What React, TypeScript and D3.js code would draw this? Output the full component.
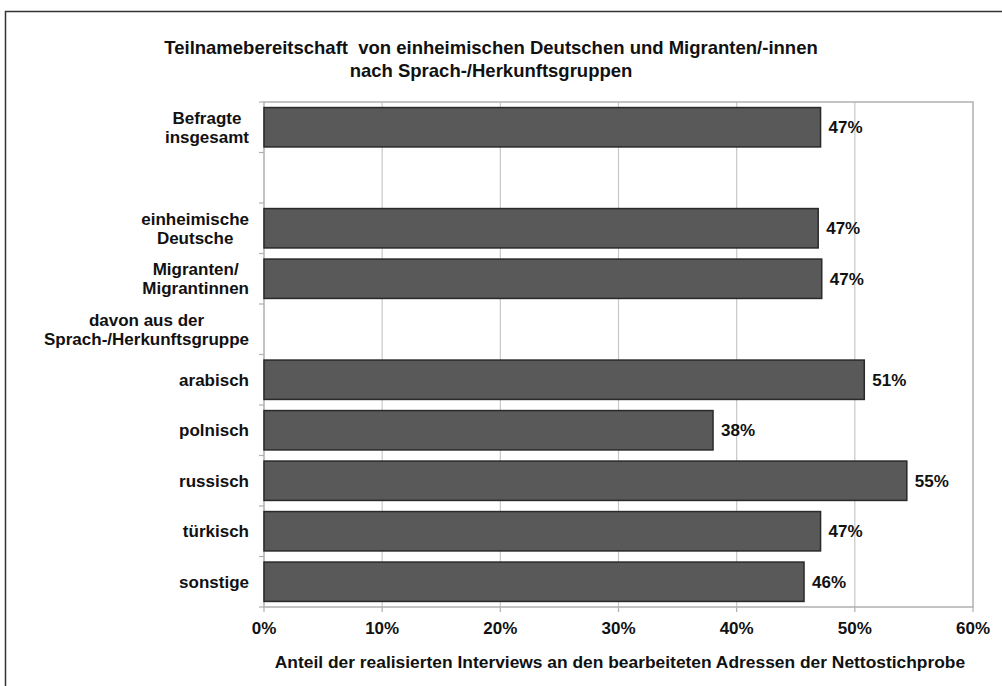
import { useEffect, useRef } from 'react';
import * as d3 from 'd3';

const categories = [
  'Befragte|insgesamt',
  'leer1',
  'einheimische|Deutsche',
  'Migranten/|Migrantinnen',
  'davon aus der|Sprach-/Herkunftsgruppe',
  'arabisch',
  'polnisch',
  'russisch',
  'türkisch',
  'sonstige',
];
const values: (number | null)[] = [47.1, null, 46.9, 47.2, null, 50.8, 38.0, 54.4, 47.1, 45.7];
const valueLabels = ['47%', '', '47%', '47%', '', '51%', '38%', '55%', '47%', '46%'];
const xTicks = [0, 10, 20, 30, 40, 50, 60];

const titleLines = [
  'Teilnamebereitschaft  von einheimischen Deutschen und Migranten/-innen',
  'nach Sprach-/Herkunftsgruppen',
];
const xTitle = 'Anteil der realisierten Interviews an den bearbeiteten Adressen der Nettostichprobe';

export default function App() {
  const svgRef = useRef<SVGSVGElement>(null);

  useEffect(() => {
    if (!svgRef.current) return;
    const W = 1002;
    const H = 686;
    const plot = { left: 264, right: 973, top: 102, bottom: 607 };
    const font = 'Arial, "Liberation Sans", sans-serif';
    const fs = 17;

    d3.select(svgRef.current).selectAll('*').remove();
    const svg = d3.select(svgRef.current).attr('width', W).attr('height', H);

    svg.append('rect').attr('width', W).attr('height', H).attr('fill', '#fff');

    // outer frame
    svg.append('rect')
      .attr('x', 5.5).attr('y', 11.5)
      .attr('width', W + 20).attr('height', H + 20)
      .attr('fill', 'none').attr('stroke', '#333').attr('stroke-width', 1.5);

    const x = d3.scaleLinear().domain([0, 60]).range([plot.left, plot.right]);
    const y = d3.scaleBand<number>()
      .domain(d3.range(categories.length))
      .range([plot.top, plot.bottom])
      .paddingInner(0.22)
      .paddingOuter(0.11);
    const slot = (plot.bottom - plot.top) / categories.length;

    // title
    svg.append('g').selectAll('text').data(titleLines).join('text')
      .attr('x', 491).attr('y', (_, i) => 54 + i * 23)
      .attr('text-anchor', 'middle')
      .attr('font-family', font).attr('font-weight', 'bold').attr('font-size', 18.5)
      .attr('fill', '#111')
      .style('white-space', 'pre')
      .text(d => d);

    // gridlines
    svg.append('g').selectAll('line').data(xTicks.slice(1, -1)).join('line')
      .attr('x1', d => x(d)).attr('x2', d => x(d))
      .attr('y1', plot.top).attr('y2', plot.bottom)
      .attr('stroke', '#c8c8c8').attr('stroke-width', 1.2);

    // plot border
    svg.append('rect')
      .attr('x', plot.left).attr('y', plot.top)
      .attr('width', plot.right - plot.left).attr('height', plot.bottom - plot.top)
      .attr('fill', 'none').attr('stroke', '#b0b0b0').attr('stroke-width', 1.5);

    // y axis ticks
    svg.append('g').selectAll('line').data(d3.range(categories.length + 1)).join('line')
      .attr('x1', plot.left - 5).attr('x2', plot.left)
      .attr('y1', d => plot.top + d * slot).attr('y2', d => plot.top + d * slot)
      .attr('stroke', '#b0b0b0').attr('stroke-width', 1.2);

    // x axis ticks
    svg.append('g').selectAll('line').data(xTicks).join('line')
      .attr('x1', d => x(d)).attr('x2', d => x(d))
      .attr('y1', plot.bottom).attr('y2', plot.bottom + 5)
      .attr('stroke', '#b0b0b0').attr('stroke-width', 1.2);

    // bars
    const data = values.map((v, i) => ({ v, i })).filter(d => d.v !== null) as { v: number; i: number }[];
    svg.append('g').selectAll('rect').data(data).join('rect')
      .attr('x', x(0)).attr('y', d => y(d.i)!)
      .attr('width', d => x(d.v) - x(0)).attr('height', y.bandwidth())
      .attr('fill', '#595959').attr('stroke', '#2a2a2a').attr('stroke-width', 1.5);

    // value labels
    svg.append('g').selectAll('text').data(data).join('text')
      .attr('x', d => x(d.v) + 8).attr('y', d => y(d.i)! + y.bandwidth() / 2 + 6)
      .attr('font-family', font).attr('font-weight', 'bold').attr('font-size', fs)
      .attr('fill', '#111')
      .text(d => valueLabels[d.i]);

    // category labels: lines centred on each other, block right-aligned
    categories.forEach((c, i) => {
      if (c.startsWith('leer')) return;
      const lines = c.split('|');
      const cy = plot.top + (i + 0.5) * slot;
      const t = svg.append('text')
        .attr('text-anchor', 'middle')
        .attr('font-family', font).attr('font-weight', 'bold').attr('font-size', fs)
        .attr('fill', '#111');
      const spans = lines.map((l, j) =>
        t.append('tspan')
          .attr('y', cy + 6 + (j - (lines.length - 1) / 2) * 19)
          .text(l)
      );
      const maxW = d3.max(spans, s => (s.node() as SVGTSpanElement).getComputedTextLength()) || 0;
      spans.forEach(s => s.attr('x', 249 - maxW / 2));
    });

    // x tick labels
    svg.append('g').selectAll('text').data(xTicks).join('text')
      .attr('x', d => x(d)).attr('y', 634)
      .attr('text-anchor', 'middle')
      .attr('font-family', font).attr('font-weight', 'bold').attr('font-size', fs)
      .attr('fill', '#111')
      .text(d => `${d}%`);

    // x axis title
    svg.append('text')
      .attr('x', 620).attr('y', 668)
      .attr('text-anchor', 'middle')
      .attr('font-family', font).attr('font-weight', 'bold').attr('font-size', 17.4)
      .attr('fill', '#111')
      .text(xTitle);
  }, []);

  return (
    <div style={{ position: 'absolute', left: 0, top: 0 }}>
      <svg ref={svgRef} style={{ display: 'block' }}></svg>
    </div>
  );
}
